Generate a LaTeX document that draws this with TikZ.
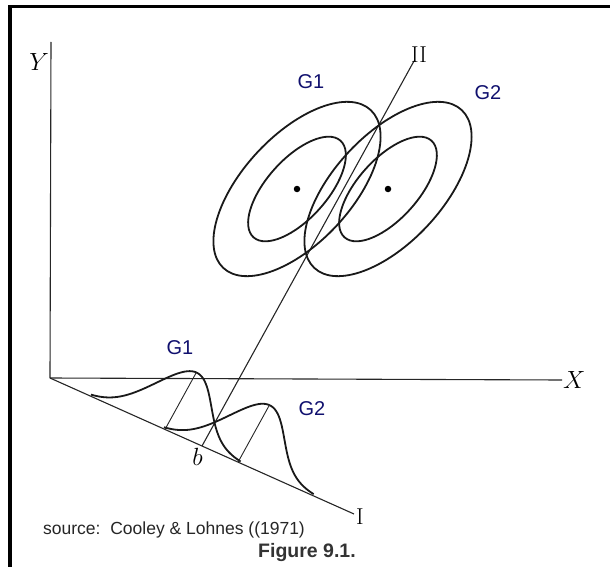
\documentclass[tikz,border=0pt]{standalone}
\usepackage{fontspec}
\newfontfamily\labelfont{Liberation Sans}
\usetikzlibrary{positioning}
\definecolor{navy}{RGB}{16,16,110}

\begin{document}
\begin{tikzpicture}[
  x=1pt, y=-1pt,
  frame/.style={line width=3.4pt, black},
  axis/.style={line width=1.1pt, black!85},
  curve/.style={line width=1.8pt, black!90},
  thin/.style={line width=0.9pt, black!85},
  axlabel/.style={font=\fontsize{23}{26}\selectfont, inner sep=1pt},
  glabel/.style={font=\labelfont\fontsize{20}{24}\selectfont, text=navy, inner sep=0pt},
  dot/.style={circle, fill=black, inner sep=0pt, minimum size=6.5pt}
]
  \useasboundingbox (0,0) rectangle (610,567);

  % frame
  \coordinate (fcorner) at (10,6.5);
  \coordinate (fright)  at (610,6.5);
  \coordinate (fbottom) at (10,567);
  \draw[frame] (fright) -- (fcorner) -- (fbottom);

  % axes
  \coordinate (O)    at (50,378);
  \coordinate (Ytop) at (51,42);
  \coordinate (Xend) at (562,380);
  \coordinate (Iend) at (354,514);
  \coordinate (b)    at (202,446);
  \coordinate (IItop) at (414,61);

  \draw[axis] (O) -- (Ytop);
  \draw[axis] (O) -- (Xend);
  \draw[axis] (O) -- (Iend);
  \draw[axis] (b) -- (IItop);

  \node[axlabel, left=1pt of Ytop, yshift=-20pt] (ylab) {$Y$};
  \node[axlabel, right=0pt of Xend] (xlab) {$X$};
  \node[axlabel, right=1pt of Iend, yshift=-3pt] (ilab) {I};
  \node[axlabel, above right=-3pt and -4pt of IItop] (iilab) {II};
  \node[axlabel, below left=1pt and -2pt of b] (blab) {$b$};

  % group ellipses
  \coordinate (g1) at (297,189);
  \coordinate (g2) at (388,189);
  \foreach \c in {g1,g2} {
    \draw[curve, rotate around={47:(\c)}] (\c) ellipse [x radius=108, y radius=54];
    \draw[curve, rotate around={48:(\c)}] (\c) ellipse [x radius=65, y radius=30];
    \node[dot] at (\c) {};
  }
  \node[glabel] (g1top) at (311,82) {G1};
  \node[glabel] (g2top) at (488,93) {G2};

  % densities on line I
  \draw[curve] plot[domain=-82:82, samples=90, smooth]
    ({50+0.913*(126+\x)+0.482*65*exp(-(\x*\x)/1800)},
     {378+0.408*(126+\x)-0.876*65*exp(-(\x*\x)/1800)});
  \draw[curve] plot[domain=-82:82, samples=90, smooth]
    ({50+0.913*(206+\x)+0.482*65*exp(-(\x*\x)/1800)},
     {378+0.408*(206+\x)-0.876*65*exp(-(\x*\x)/1800)});

  \coordinate (foot1) at (165.0,429.4);
  \coordinate (peak1) at (196.3,372.5);
  \coordinate (foot2) at (238.1,462.0);
  \coordinate (peak2) at (269.4,405.1);
  \draw[thin] (foot1) -- (peak1);
  \draw[thin] (foot2) -- (peak2);

  \node[glabel] (g1low) at (180,348) {G1};
  \node[glabel] (g2low) at (312,409) {G2};

  % captions
  \node[font=\labelfont\fontsize{17.5}{20}\selectfont, text=black!85, anchor=west, inner sep=0pt]
    (source) at (43,530) {source:\ \ Cooley \& Lohnes ((1971)};
  \node[font=\labelfont\bfseries\fontsize{19.5}{22}\selectfont, text=black!80, inner sep=0pt]
    (caption) at (307,552) {Figure 9.1.};
\end{tikzpicture}
\end{document}
